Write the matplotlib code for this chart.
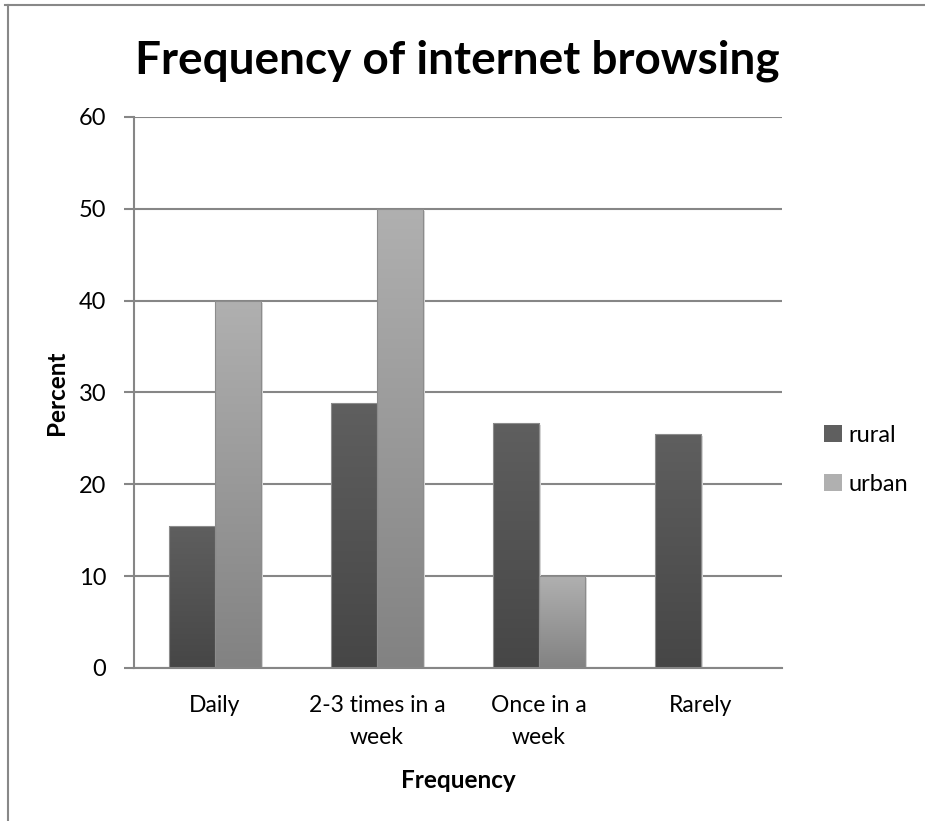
import numpy as np
import matplotlib
matplotlib.use("Agg")
import matplotlib.pyplot as plt
from matplotlib.colors import LinearSegmentedColormap
from matplotlib.lines import Line2D

# --- data ---
categories = ["Daily", "2-3 times in a\nweek", "Once in a\nweek", "Rarely"]
rural = [15.5, 28.8, 26.7, 25.5]
urban = [40, 50, 10, 0]
series_names = ["rural", "urban"]

# gradient colours (top, bottom) for each series
RURAL_GRAD = ("#5f5f5f", "#464646")
URBAN_GRAD = ("#b0b0b0", "#828282")

FONT = ["Lato", "DejaVu Sans"]
plt.rcParams["font.family"] = FONT

fig = plt.figure(figsize=(9.25, 8.21), dpi=100)
ax = fig.add_axes([0.1449, 0.1864, 0.7005, 0.6711])

x = np.arange(len(categories))
width = 0.286

def gradient_bars(ax, xs, vals, colors, label):
    cmap = LinearSegmentedColormap.from_list(label, [colors[1], colors[0]])
    bars = ax.bar(xs, vals, width, color=colors[0], edgecolor="none", zorder=2, label=label)
    grad = np.linspace(0, 1, 256).reshape(-1, 1)
    for b in bars:
        h = b.get_height()
        if h <= 0:
            continue
        x0 = b.get_x()
        # soft shadow to the right
        ax.add_patch(plt.Rectangle((x0 + 0.012, 0), b.get_width(), h - 0.25,
                                   color="#d8d8d8", zorder=1.5, lw=0))
        im = ax.imshow(grad, extent=[x0, x0 + b.get_width(), 0, h], origin="lower",
                       aspect="auto", cmap=cmap, zorder=2.1)
        im.set_clip_path(b)
        ax.add_patch(plt.Rectangle((x0, 0), b.get_width(), h, fill=False,
                                   edgecolor="#8c8c8c", lw=0.8, zorder=2.2))
    return bars

gradient_bars(ax, x - width / 2, rural, RURAL_GRAD, series_names[0])
gradient_bars(ax, x + width / 2, urban, URBAN_GRAD, series_names[1])

ax.set_xlim(-0.5, len(categories) - 0.5)
ax.set_ylim(0, 60)
ax.set_yticks(range(0, 61, 10))
ax.yaxis.grid(True, color="#868686", lw=1.5, zorder=0.5)
ax.set_axisbelow(True)

for s in ["top", "right"]:
    ax.spines[s].set_visible(False)
for s in ["left", "bottom"]:
    ax.spines[s].set_color("#868686")
    ax.spines[s].set_linewidth(1.5)

ax.set_xticks(x)
ax.set_xticklabels(categories, fontsize=16.5, linespacing=1.62)
ax.tick_params(axis="x", length=0, pad=19.5)
ax.tick_params(axis="y", length=7, width=1.5, color="#868686", labelsize=17, pad=13)

ax.set_xlabel("Frequency", fontsize=17.5, fontweight="bold", labelpad=15.5)
ax.set_ylabel("Percent", fontsize=17.5, fontweight="bold", labelpad=8)

fig.text(0.494, 0.926, "Frequency of internet browsing", ha="center", va="center",
         fontsize=33, fontweight="bold")

leg = ax.legend(loc="center left", bbox_to_anchor=(1.032, 0.378), frameon=False,
                fontsize=17, handlelength=0.75, handleheight=0.75, handletextpad=0.3,
                labelspacing=1.2)

# outer chart frame
fig.add_artist(Line2D([5 / 925, 1], [1 - 5 / 821] * 2, color="#888888", lw=1.5,
                      transform=fig.transFigure))
fig.add_artist(Line2D([8 / 925] * 2, [0, 1 - 5 / 821], color="#888888", lw=1.5,
                      transform=fig.transFigure))

fig.savefig("out.png", dpi=100)
